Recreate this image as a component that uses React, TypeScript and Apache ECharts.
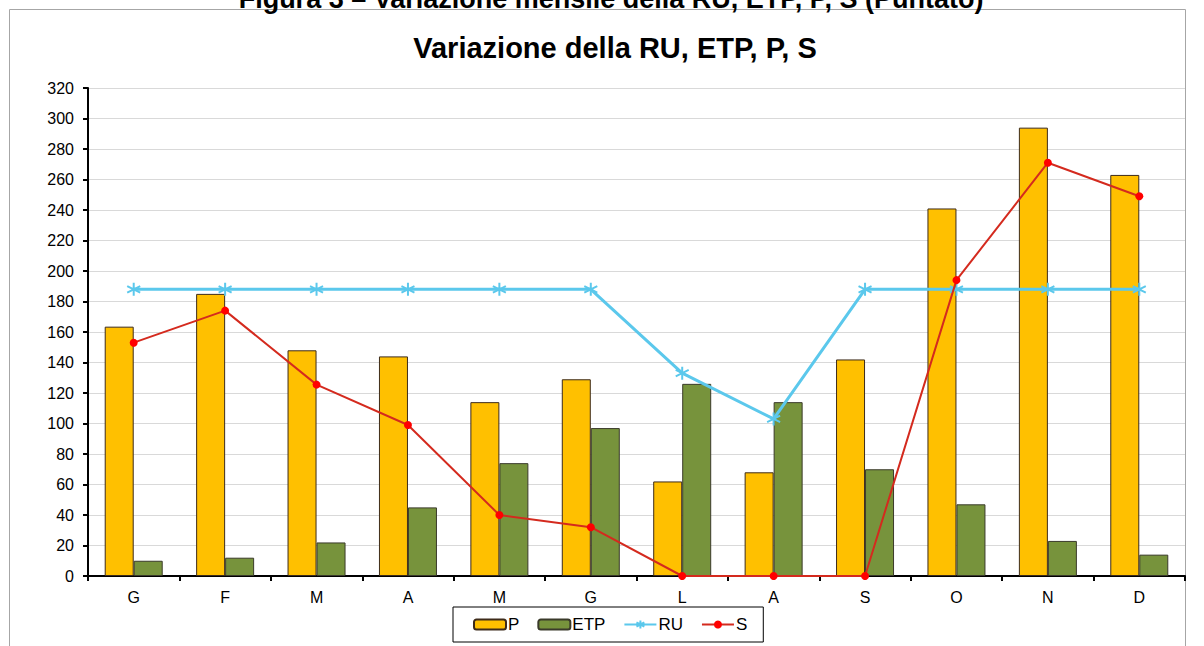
import React, { useEffect, useRef } from "react";
import * as echarts from "echarts";

const months = ["G", "F", "M", "A", "M", "G", "L", "A", "S", "O", "N", "D"];
const pValues = [163.5, 185, 148, 144, 114, 129, 62, 68, 142, 241, 294, 263];
const etpValues = [10, 12, 22, 45, 74, 97, 126, 114, 70, 47, 23, 14];
const ruValues = [188, 188, 188, 188, 188, 188, 133, 103, 188, 188, 188, 188];
const sValues = [153, 174, 125.5, 99, 40, 32, 0, 0, 0, 194, 271, 249];

const FONT = "'Liberation Sans', Arial, sans-serif";
const ASTERISK = "path://M0 -6 L0 6 M-5.2 -3 L5.2 3 M-5.2 3 L5.2 -3";

export default function App() {
  const ref = useRef<HTMLDivElement>(null);
  useEffect(() => {
    if (!ref.current) return;
    const chart = echarts.init(ref.current, undefined, { renderer: "svg" });
    chart.setOption({
      animation: false,
      backgroundColor: "#fff",
      textStyle: { fontFamily: FONT },
      graphic: [
        {
          type: "rect",
          shape: { x: 9.5, y: 9.5, width: 1176, height: 700 },
          style: { fill: "none", stroke: "#a6a6a6", lineWidth: 1 },
          silent: true,
        },
        {
          type: "text",
          x: 611,
          y: 12,
          style: {
            text: "Figura 3 – Variazione mensile della RU, ETP, P, S (Puntato)",
            fontFamily: FONT,
            fontWeight: "bold",
            fontSize: 27,
            fill: "#000",
            align: "center",
            verticalAlign: "bottom",
          },
        },
        {
          type: "text",
          x: 615,
          y: 48,
          style: {
            text: "Variazione della RU, ETP, P, S",
            fontFamily: FONT,
            fontWeight: "bold",
            fontSize: 29,
            fill: "#000",
            align: "center",
            verticalAlign: "middle",
          },
        },
      ],
      grid: { left: 88, right: 19, top: 88, bottom: 70, containLabel: false },
      legend: {
        left: 453,
        top: 607,
        padding: [9, 16, 9, 20],
        borderColor: "#000",
        borderWidth: 1,
        itemWidth: 32,
        itemHeight: 10,
        itemGap: 18,
        textStyle: { fontSize: 17, color: "#000", fontFamily: FONT, padding: [0, 0, 0, -3] },
        data: ["P", "ETP", "RU", "S"],
      },
      xAxis: {
        type: "category",
        data: months,
        boundaryGap: true,
        axisLine: { lineStyle: { color: "#000", width: 2 } },
        axisTick: { show: true, length: 5, lineStyle: { color: "#000", width: 2 } },
        axisLabel: { color: "#000", fontSize: 16, margin: 13, fontFamily: FONT },
      },
      yAxis: {
        type: "value",
        min: 0,
        max: 320,
        interval: 20,
        axisLine: { show: true, lineStyle: { color: "#000", width: 2 } },
        axisTick: { show: true, length: 5, lineStyle: { color: "#000", width: 2 } },
        axisLabel: { color: "#000", fontSize: 16, margin: 14, fontFamily: FONT },
        splitLine: { lineStyle: { color: "#d9d9d9", width: 1 } },
      },
      series: [
        {
          name: "P",
          type: "bar",
          data: pValues,
          barWidth: 29,
          barGap: "0%",
          itemStyle: { color: "#FFC000", borderColor: "#3d2b1a", borderWidth: 1 },
        },
        {
          name: "ETP",
          type: "bar",
          data: etpValues,
          barWidth: 29,
          barGap: "0%",
          itemStyle: { color: "#77933C", borderColor: "#3a3a2a", borderWidth: 1 },
        },
        {
          name: "RU",
          type: "line",
          data: ruValues,
          symbol: ASTERISK,
          symbolSize: 13,
          lineStyle: { color: "#5BC8EC", width: 3 },
          itemStyle: { color: "#5BC8EC", borderColor: "#5BC8EC", borderWidth: 2 },
          z: 3,
        },
        {
          name: "S",
          type: "line",
          data: sValues,
          symbol: "circle",
          symbolSize: 8,
          lineStyle: { color: "#D42A1E", width: 2 },
          itemStyle: { color: "#FF0000", borderColor: "#FF0000", borderWidth: 0 },
          z: 4,
        },
      ],
    });
    return () => chart.dispose();
  }, []);
  return (
    <div
      ref={ref}
      style={{ position: "fixed", left: 0, top: 0, width: 1204, height: 646 }}
    />
  );
}
